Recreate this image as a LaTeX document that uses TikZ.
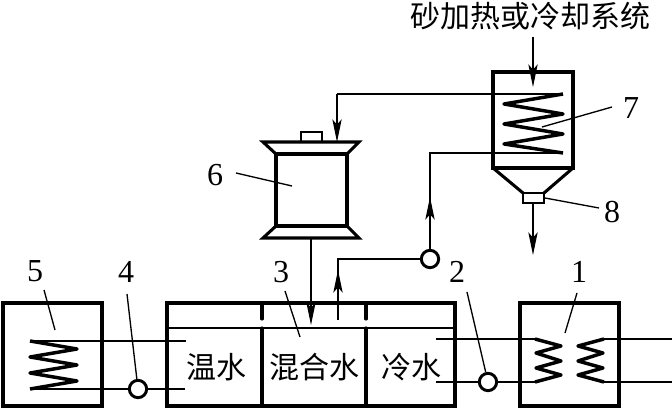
\documentclass[tikz,border=0pt]{standalone}
\usepackage{fontspec}
\setmainfont{Liberation Serif}
\newfontfamily\cjk{Noto Sans CJK SC}
\usetikzlibrary{arrows.meta}
\tikzset{
  thin line/.style={line width=1pt,line cap=butt},
  thick line/.style={line width=2.3pt,line join=miter,line cap=round},
  coil/.style={line width=2.6pt,line join=round,line cap=butt},
  head/.style={-{Stealth[length=17pt,width=7pt,inset=4pt]},line width=1pt},
  num/.style={font=\fontsize{24}{24}\selectfont,inner sep=0pt},
  cn/.style={font=\cjk\fontsize{22.5}{24}\selectfont,inner sep=0pt},
  pump/.style={circle,draw,line width=2.2pt,fill=white,minimum size=13pt,inner sep=0pt},
}
\begin{document}
\begin{tikzpicture}[x=0.75pt,y=-0.75pt]
\useasboundingbox (0,0) rectangle (672,409);
% boxes
\draw[thick line] (3,303) rectangle (102,406);
\draw[thick line] (167,303) rectangle (455,406);
\draw[thick line] (520,303) rectangle (619,406);
\draw[thin line] (167,328) -- (455,328);
\draw[thick line] (262,303) -- (262,319);
\draw[thick line] (366,303) -- (366,319);
\draw[thick line] (262,328) -- (262,406);
\draw[thick line] (366,328) -- (366,406);
% named coordinates
\coordinate (c5a) at (30,341); \coordinate (c5b) at (30,389);
\coordinate (w1) at (186,341); \coordinate (w2) at (185,389);
\coordinate (k1) at (436,339); \coordinate (k2) at (436,382);
\coordinate (c1a) at (535,339); \coordinate (c1b) at (535,382);
\coordinate (c1c) at (604,339); \coordinate (c1d) at (604,382);
\coordinate (e1) at (672,339); \coordinate (e2) at (672,382);
\coordinate (c7a) at (563,94); \coordinate (c7b) at (563,153);
\coordinate (m1) at (338,320); \coordinate (m2) at (338,259);
\coordinate (t1) at (430,153); \coordinate (t2) at (337,94);
% coils
\draw[coil] (c5a) -- (77,349) -- (30,357) -- (77,365) -- (30,373) -- (77,381) -- (c5b);
\draw[coil] (c1a) -- (561,346) -- (536,353) -- (561,361) -- (536,368) -- (561,375) -- (c1b);
\draw[coil] (c1c) -- (578,346) -- (603,353) -- (578,361) -- (603,368) -- (578,375) -- (c1d);
\draw[coil] (c7a) -- (504,104) -- (563,114) -- (504,124) -- (563,134) -- (504,144) -- (c7b);
% pumps
\node[pump] (p4) at (138,389) {};
\node[pump] (p2) at (488,382) {};
\node[pump] (p3) at (430,259) {};
% pipes
\draw[thin line] (c5a) -- (w1);
\draw[thin line] (c5b) -- (p4) -- (w2);
\draw[thin line] (k1) -- (c1a);
\draw[thin line] (k2) -- (p2) -- (c1b);
\draw[thin line] (c1c) -- (e1);
\draw[thin line] (c1d) -- (e2);
\draw[thin line] (m1) -- (m2) -- (p3);
\draw[head] (m1) -- (338,270);
\draw[thin line] (p3) -- (t1) -- (c7b);
\draw[head] (p3) -- (430,197);
\draw[thin line] (c7a) -- (t2);
% vessel 6
\draw[thick line] (276,154) rectangle (347,226);
\draw[thick line] (263,142) -- (359,142) -- (347,154) -- (276,154) -- cycle;
\draw[thick line] (276,226) -- (347,226) -- (359,238) -- (263,238) -- cycle;
\draw[thick line,line width=1.8pt] (301,142) -- (301,132) -- (322,132) -- (322,142);
\coordinate (v6b) at (311,238); \coordinate (mix) at (311,325); \coordinate (v6t) at (337,142);
\draw[head] (t2) -- (v6t);
\draw[head] (v6b) -- (mix);
% vessel 7
\draw[thick line] (493,72) -- (573,72) -- (573,168) -- (493,168) -- cycle;
\draw[thick line] (493,168) -- (523,193) (573,168) -- (544,193);
\draw[thick line,line width=1.8pt] (523,193) rectangle (544,203);
\coordinate (s1) at (533,37); \coordinate (s2) at (533,87);
\coordinate (o1) at (533,203); \coordinate (o2) at (533,255);
\draw[head] (s1) -- (s2);
\draw[head] (o1) -- (o2);
% texts
\node[cn] (top) at (530,16) {砂加热或冷却系统};
\node[cn] (tw) at (216,367) {温水};
\node[cn] (tm) at (314,367) {混合水};
\node[cn] (tc) at (411,367) {冷水};
% numbers + leaders
\node[num] (n1) at (579,272) {1};
\node[num] (n2) at (457,272) {2};
\node[num] (n3) at (281,272) {3};
\node[num] (n4) at (126,272) {4};
\node[num] (n5) at (35,271) {5};
\node[num] (n6) at (215,175) {6};
\node[num] (n7) at (631,108) {7};
\node[num] (n8) at (612,212) {8};
\draw[thin line] (577,293) -- (565,333);
\draw[thin line] (467,292) -- (p2);
\draw[thin line] (285,291) -- (300,337);
\draw[thin line] (127,294) -- (p4);
\draw[thin line] (44,290) -- (55,330);
\draw[thin line] (236,173) -- (292,186);
\draw[thin line] (612,107) -- (542,127);
\draw[thin line] (599,208) -- (545,198);
\end{tikzpicture}
\end{document}
